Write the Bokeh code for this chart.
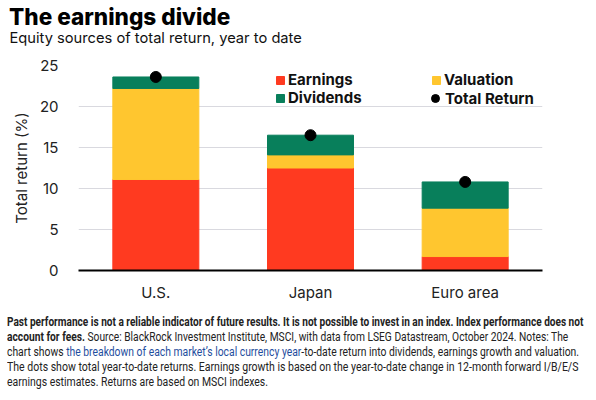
from bokeh.plotting import figure
from bokeh.models import (ColumnDataSource, Legend, LegendItem, Div,
                          FactorRange, FixedTicker)
from bokeh.layouts import column
from bokeh.embed import file_html
from bokeh.resources import INLINE

# ---- data ----
markets = ["U.S.", "Japan", "Euro area"]
earnings = [11.1, 12.5, 1.7]
valuation = [11.1, 1.6, 5.9]
dividends = [1.4, 2.4, 3.2]
total_return = [23.6, 16.5, 10.8]
y_ticks = [0, 5, 10, 15, 20, 25]

components = ["Earnings", "Valuation", "Dividends"]
colors = ["#FF3A20", "#FFC62F", "#087F5B"]

title_text = "The earnings divide"
subtitle_text = "Equity sources of total return, year to date"
y_label = "Total return (%)"

footer_lines = [
    ("<b>Past performance is not a reliable indicator of future results. It is not "
     "possible to invest in an index. Index performance does not</b>", 0.84),
    ("<b>account for fees.</b> Source: BlackRock Investment Institute, MSCI, with data "
     "from LSEG Datastream, October 2024. Notes: The", 0.853),
    ("chart shows <span style=\"color:#1f4e9e\">the breakdown of each market\u2019s local "
     "currency year</span>-to-date return into dividends, earnings growth and valuation.", 0.863),
    ("The dots show total year-to-date returns. Earnings growth is based on the "
     "year-to-date change in 12-month forward I/B/E/S", 0.877),
    ("earnings estimates. Returns are based on MSCI indexes.", 0.87),
]

FONT = "Inter"
W = 596

# ---- header ----
header_html = (
    "<div style=\"position:relative;width:%dpx;height:50px;\">" % W
    + "<div style=\"position:absolute;left:9px;top:5.5px;white-space:nowrap;"
    "font-family:Inter;font-weight:800;font-size:22.6px;line-height:22.6px;color:#000;\">"
    + title_text + "</div>"
    "<div style=\"position:absolute;left:9.5px;top:30.6px;white-space:nowrap;"
    "font-family:Inter;font-size:14.7px;line-height:14.7px;color:#111;\">"
    + subtitle_text + "</div></div>"
)
header = Div(text=header_html, width=W, height=50, margin=0)

# ---- chart ----
src = ColumnDataSource(dict(market=markets, Earnings=earnings,
                            Valuation=valuation, Dividends=dividends,
                            total=total_return))

p = figure(x_range=FactorRange(*markets, range_padding=0), y_range=(0, 25),
           width=W, height=258, output_backend="svg", toolbar_location=None,
           min_border_left=78, min_border_right=54, min_border_top=15,
           min_border_bottom=38, title=None)
p.outline_line_color = None
p.background_fill_color = "white"
p.border_fill_color = "white"

bars = p.vbar_stack(components, x="market", width=0.556, color=colors,
                    source=src)
dots = p.scatter("market", "total", size=11, color="black", source=src)

p.yaxis.ticker = FixedTicker(ticks=y_ticks)
p.yaxis.axis_line_color = None
p.yaxis.major_tick_line_color = None
p.yaxis.minor_tick_line_color = None
p.yaxis.major_label_standoff = 14
p.yaxis.major_label_text_font = FONT
p.yaxis.major_label_text_font_size = "15px"
p.yaxis.major_label_text_color = "#222222"
p.yaxis.axis_label = y_label
p.yaxis.axis_label_text_font = FONT
p.yaxis.axis_label_text_font_size = "15px"
p.yaxis.axis_label_text_font_style = "normal"
p.yaxis.axis_label_text_color = "#222222"
p.yaxis.axis_label_standoff = 6

p.xaxis.axis_line_color = "black"
p.xaxis.axis_line_width = 2
p.xaxis.major_tick_line_color = None
p.xaxis.minor_tick_line_color = None
p.xaxis.major_label_standoff = 6
p.xaxis.major_label_text_font = FONT
p.xaxis.major_label_text_font_size = "15px"
p.xaxis.major_label_text_color = "#222222"

p.xgrid.grid_line_color = None
p.ygrid.grid_line_color = "#d9d9df"
p.ygrid.grid_line_width = 1


def make_legend(label, rend, loc, gw, gh, standoff):
    lg = Legend(items=[LegendItem(label=label, renderers=[rend])],
                location=loc, orientation="vertical",
                glyph_width=gw, glyph_height=gh, label_height=gh,
                label_standoff=standoff, padding=0, margin=0, spacing=0,
                background_fill_alpha=0, border_line_alpha=0,
                label_text_font=FONT, label_text_font_size="15px",
                label_text_font_style="bold", label_text_color="#111111")
    p.add_layout(lg, "center")


make_legend("Earnings", bars[0], (197, 181), 10, 10, 3)
make_legend("Dividends", bars[2], (197, 163), 10, 10, 3)
make_legend("Valuation", bars[1], (353, 181), 10, 10, 3)
make_legend("Total Return", dots, (347, 162), 20, 20, -2)

# ---- footer ----
LINE_H = 15.1
parts = []
for i, (txt, sx) in enumerate(footer_lines):
    parts.append(
        "<div style=\"position:absolute;left:7px;top:%.1fpx;transform:scaleX(%.3f);"
        "transform-origin:0 0;white-space:nowrap;font-family:Roboto;font-size:12px;"
        "line-height:%.1fpx;color:#222;\">%s</div>" % (6.5 + i * LINE_H, sx, LINE_H, txt))
footer_html = ("<div style=\"position:relative;width:%dpx;height:92px;overflow:hidden;\">" % W
               + "".join(parts) + "</div>")
footer = Div(text=footer_html, width=W, height=92, margin=0)

layout = column(header, p, footer, spacing=0, margin=0)
open("out.html", "w").write(file_html(layout, INLINE))
